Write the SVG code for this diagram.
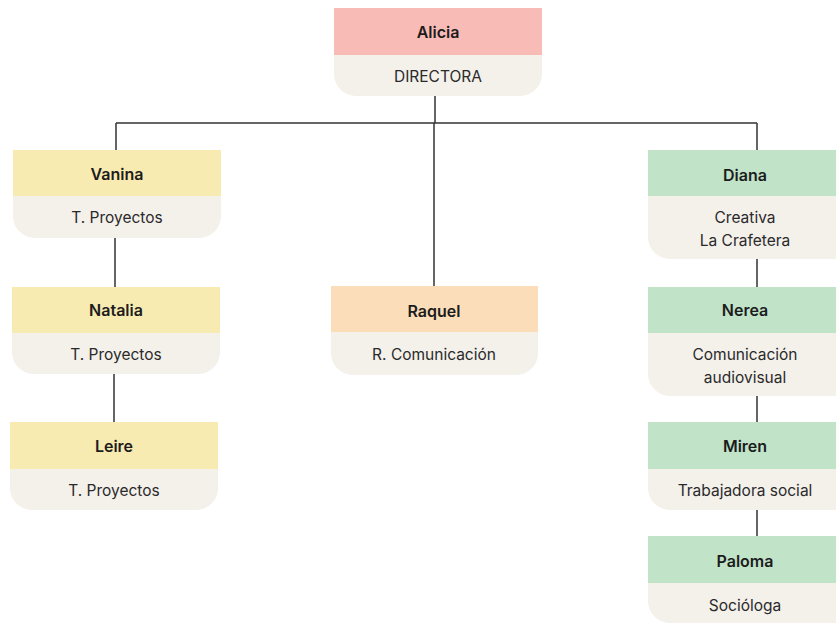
<svg xmlns="http://www.w3.org/2000/svg" width="836" height="624" viewBox="0 0 836 624">
<style>
.body{fill:#F4F0EA}
.pink{fill:#F9BBB6}
.yellow{fill:#F8EBB1}
.green{fill:#C1E4C9}
.orange{fill:#FBDDB9}
.name{font-family:Inter,"Liberation Sans",sans-serif;font-size:16px;font-weight:600;fill:#1c1c1c;text-anchor:middle}
.role{font-family:Inter,"Liberation Sans",sans-serif;font-size:15.5px;fill:#2a2a2a;text-anchor:middle}
.conn{stroke:#333;stroke-width:1.5;fill:none}
</style>
<rect width="836" height="624" fill="#ffffff"/>
<g id="connectors">
<path class="conn" d="M435 96V123M116 123H757M116 123V150M434 123V286M757 123V150"/>
<path class="conn" d="M115 238V287M114 374V422"/>
<path class="conn" d="M757 259V287M757 396V422M757 510V536"/>
</g>
<g id="alicia">
<rect class="pink" x="334" y="8" width="208" height="47"/>
<path class="body" d="M334 55H542V74A22 22 0 0 1 520 96H356A22 22 0 0 1 334 74Z"/>
<text class="name" x="438" y="38">Alicia</text>
<text class="role" x="438" y="82">DIRECTORA</text>
</g>
<g id="vanina">
<rect class="yellow" x="13" y="150" width="208" height="46"/>
<path class="body" d="M13 196H221V216A22 22 0 0 1 199 238H35A22 22 0 0 1 13 216Z"/>
<text class="name" x="117" y="180">Vanina</text>
<text class="role" x="117" y="223">T. Proyectos</text>
</g>
<g id="natalia">
<rect class="yellow" x="12" y="287" width="208" height="46"/>
<path class="body" d="M12 333H220V352A22 22 0 0 1 198 374H34A22 22 0 0 1 12 352Z"/>
<text class="name" x="116" y="316">Natalia</text>
<text class="role" x="116" y="360">T. Proyectos</text>
</g>
<g id="leire">
<rect class="yellow" x="10" y="422" width="208" height="47"/>
<path class="body" d="M10 469H218V488A22 22 0 0 1 196 510H32A22 22 0 0 1 10 488Z"/>
<text class="name" x="114" y="452">Leire</text>
<text class="role" x="114" y="496">T. Proyectos</text>
</g>
<g id="raquel">
<rect class="orange" x="331" y="286" width="207" height="46"/>
<path class="body" d="M331 332H538V353A22 22 0 0 1 516 375H353A22 22 0 0 1 331 353Z"/>
<text class="name" x="434" y="317">Raquel</text>
<text class="role" x="434" y="360">R. Comunicación</text>
</g>
<g id="diana">
<rect class="green" x="648" y="150" width="208" height="46"/>
<path class="body" d="M648 196H856V237A22 22 0 0 1 834 259H670A22 22 0 0 1 648 237Z"/>
<text class="name" x="745" y="181">Diana</text>
<text class="role" x="745" y="223">Creativa</text>
<text class="role" x="745" y="246">La Crafetera</text>
</g>
<g id="nerea">
<rect class="green" x="648" y="287" width="208" height="46"/>
<path class="body" d="M648 333H856V374A22 22 0 0 1 834 396H670A22 22 0 0 1 648 374Z"/>
<text class="name" x="745" y="316">Nerea</text>
<text class="role" x="745" y="360">Comunicación</text>
<text class="role" x="745" y="383">audiovisual</text>
</g>
<g id="miren">
<rect class="green" x="648" y="422" width="208" height="47"/>
<path class="body" d="M648 469H856V488A22 22 0 0 1 834 510H670A22 22 0 0 1 648 488Z"/>
<text class="name" x="745" y="452">Miren</text>
<text class="role" x="745" y="496">Trabajadora social</text>
</g>
<g id="paloma">
<rect class="green" x="648" y="536" width="208" height="47"/>
<path class="body" d="M648 583H856V601A22 22 0 0 1 834 623H670A22 22 0 0 1 648 601Z"/>
<text class="name" x="745" y="567">Paloma</text>
<text class="role" x="745" y="611">Socióloga</text>
</g>
</svg>
